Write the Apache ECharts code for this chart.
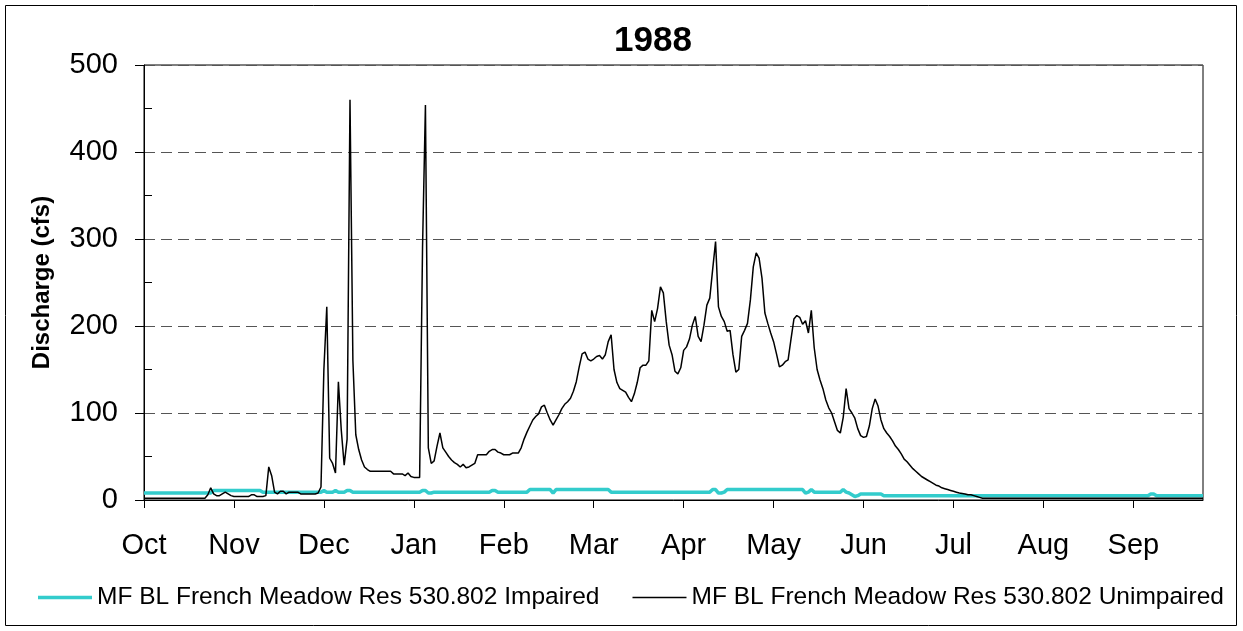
<!DOCTYPE html>
<html>
<head>
<meta charset="utf-8">
<script src="https://cdn.jsdelivr.net/npm/echarts@6/dist/echarts.min.js"></script>
<style>
html,body{margin:0;padding:0;background:#fff;}
#chart{width:1243px;height:631px;}
</style>
</head>
<body>
<div id="chart"></div>
<script>
// Water year 1988 (Oct 1987 - Sep 1988), daily discharge (cfs)
const monthNames = ['Oct','Nov','Dec','Jan','Feb','Mar','Apr','May','Jun','Jul','Aug','Sep'];
const monthLengths = [31,30,31,31,29,31,30,31,30,31,31,30];
const yTicks = [0,100,200,300,400,500];

// Unimpaired flow by month
const unimpOct = [2,2,2,2,2,2,2,2,2,2,2,2,2,2,2,2,2,2,2,2,2,2,6,14,7,5,5,7,9,7,5];
const unimpNov = [4,4,4,4,4,4,6,6,4,4,4,5,38,28,9,7,10,10,7,9,9,9,9,7,7,7,7,7,7,8];
const unimpDec = [15,150,222,48,42,31,136,80,40,70,460,160,75,58,46,38,35,33,33,33,33,33,33,33,33,30,30,30,30,28,31];
const unimpJan = [27,26,26,26,290,454,60,42,45,62,77,60,55,50,46,43,41,38,41,37,38,40,42,52,52,52,52,56,58,58,55];
const unimpFeb = [54,52,52,52,54,54,54,60,70,78,85,92,96,99,107,109,100,92,86,92,98,105,110,113,117,125,136,153,168];
const unimpMar = [170,162,160,162,165,166,162,167,182,190,150,135,128,126,124,118,113,122,135,152,155,155,160,218,205,220,245,238,205,178,167];
const unimpApr = [148,145,152,172,176,185,201,211,188,182,201,224,232,265,297,222,211,205,194,195,167,147,150,188,195,203,230,268,284,278];
const unimpMay = [255,215,203,192,182,168,153,155,159,161,185,208,212,210,202,206,192,218,175,150,138,128,115,106,100,90,80,77,95,128,105];
const unimpJun = [100,94,82,74,72,73,85,105,116,108,92,82,77,73,68,62,58,53,47,44,40,36,33,30,27,25,23,21,19,17];
const unimpJul = [16,14,13,12,11,10,9,8,7.5,7,6,6,5,4,3,2,2,2,2,2,2,2,2,2,2,2,2,2,2,2,2];
const unimpAug = [2,2,2,2,2,2,2,2,2,2,2,2,2,2,2,2,2,2,2,2,2,2,2,2,2,2,2,2,2,2,2];
const unimpSep = [2,2,2,2,2,2,2,2,2,2,2,2,2,2,2,2,2,2,2,2,2,2,2,2,2,2,2,2,2,2];

// Impaired flow by month
const impOct = [8,8,8,8,8,8,8,8,8,8,8,8,8,8,8,8,8,8,8,8,8,8,8,8,11,11,11,11,11,11,11];
const impNov = [11,11,11,11,11,11,11,11,11,11,9,9,9,9,9,9,9,9,9,9,9,9,9,9,9,9,9,9,9,9];
const impDec = [9,11,9,9,9,11,9,9,9,11,11,9,9,9,9,9,9,9,9,9,9,9,9,9,9,9,9,9,9,9,9];
const impJan = [9,9,9,9,11,11,8,8,9,9,9,9,9,9,9,9,9,9,9,9,9,9,9,9,9,9,9,9,11,11,9];
const impFeb = [9,9,9,9,9,9,9,9,9,9,12,12,12,12,12,12,12,12,8,12,12,12,12,12,12,12,12,12,12];
const impMar = [12,12,12,12,12,12,12,12,12,9,9,9,9,9,9,9,9,9,9,9,9,9,9,9,9,9,9,9,9,9,9];
const impApr = [9,9,9,9,9,9,9,9,9,9,9,9,9,12,12,8,8,9,12,12,12,12,12,12,12,12,12,12,12,12];
const impMay = [12,12,12,12,12,12,12,12,12,12,12,12,12,12,12,8,9,12,9,9,9,9,9,9,9,9,9,9,12,9,8];
const impJun = [6,4,5,7,7,7,7,7,7,7,7,5,5,5,5,5,5,5,5,5,5,5,5,5,5,5,5,5,5,5];
const impJul = [5,5,5,5,5,5,5,5,5,5,5,5,5,5,5,5,5,5,5,5,5,5,5,5,5,5,5,5,5,5,5];
const impAug = [5,5,5,5,5,5,5,5,5,5,5,5,5,5,5,5,5,5,5,5,5,5,5,5,5,5,5,5,5,5,5];
const impSep = [5,5,5,5,5,5,5,5,5,5,5,7,7,5,5,5,5,5,5,5,5,5,5,5,5,5,5,5,5,5];

const unimpaired = [].concat(unimpOct,unimpNov,unimpDec,unimpJan,unimpFeb,unimpMar,unimpApr,unimpMay,unimpJun,unimpJul,unimpAug,unimpSep);
const impaired = [].concat(impOct,impNov,impDec,impJan,impFeb,impMar,impApr,impMay,impJun,impJul,impAug,impSep);

// one category per day, labelled with its month name
const categories = [];
monthNames.forEach((m, i) => { for (let d = 0; d < monthLengths[i]; d++) categories.push(m); });

const NAME_IMP = 'MF BL French Meadow Res 530.802 Impaired';
const NAME_UNIMP = 'MF BL French Meadow Res 530.802 Unimpaired';
const FONT = '"Liberation Sans", Arial, sans-serif';
const chart = echarts.init(document.getElementById('chart'), null, {renderer: 'canvas'});
chart.setOption({
  animation: false,
  backgroundColor: '#fff',
  title: {
    text: '1988', left: 648, top: 19, textAlign: 'center',
    textStyle: {fontFamily: FONT, fontSize: 35, fontWeight: 'bold', color: '#000'}
  },
  graphic: [{
    type: 'rect', shape: {x: 5.5, y: 5.5, width: 1231, height: 620},
    style: {fill: 'none', stroke: '#000', lineWidth: 1}, silent: true
  }],
  legend: {
    left: 33, top: 580, itemWidth: 54, itemHeight: 14, itemGap: 33,
    symbolKeepAspect: true,
    textStyle: {fontFamily: FONT, fontSize: 24.5, color: '#000', padding: [0,0,0,0]},
    data: [
      {name: NAME_IMP, icon: 'path://M0,0H108V7H0Z', itemStyle: {color: '#33CCCC', borderWidth: 0}},
      {name: NAME_UNIMP, icon: 'path://M0,0H108V3H0Z', itemStyle: {color: '#000', borderWidth: 0}}
    ]
  },
  grid: {left: 144, right: 40, top: 65, bottom: 131, show: true, borderColor: '#000', borderWidth: 1, containLabel: false},
  xAxis: {
    type: 'category', data: categories, boundaryGap: false,
    axisLine: {lineStyle: {color: '#000', width: 1}},
    axisTick: {interval: 30, length: 8, lineStyle: {color: '#000'}},
    axisLabel: {interval: 30, margin: 31, fontFamily: FONT, fontSize: 29, color: '#000'},
    splitLine: {show: false}
  },
  yAxis: [{
    type: 'value', min: yTicks[0], max: yTicks[yTicks.length-1], interval: 100,
    name: 'Discharge (cfs)', nameLocation: 'middle', nameGap: 90,
    nameTextStyle: {fontFamily: FONT, fontSize: 24, fontWeight: 'bold', color: '#000'},
    axisLine: {show: true, lineStyle: {color: '#000', width: 1}},
    axisTick: {show: true, length: 9, lineStyle: {color: '#000'}},
    axisLabel: {margin: 26, fontFamily: FONT, fontSize: 29, color: '#000'},
    splitLine: {show: true, lineStyle: {color: '#555', type: [11, 6], width: 1}}
  }, {
    type: 'value', min: 0, max: 500, position: 'left',
    axisLine: {show: false},
    axisTick: {show: true, inside: true, length: 8, customValues: [50,150,250,350,450], lineStyle: {color: '#000'}},
    axisLabel: {show: false},
    splitLine: {show: false}
  }],
  series: [{
    name: NAME_IMP, type: 'line', data: impaired,
    yAxisIndex: 0, symbol: 'none', lineStyle: {color: '#33CCCC', width: 3.5}, itemStyle: {color: '#33CCCC'}, z: 2
  }, {
    name: NAME_UNIMP, type: 'line', data: unimpaired,
    yAxisIndex: 0, symbol: 'none', lineStyle: {color: '#000', width: 1.5}, itemStyle: {color: '#000'}, z: 3
  }]
});
</script>
</body>
</html>
